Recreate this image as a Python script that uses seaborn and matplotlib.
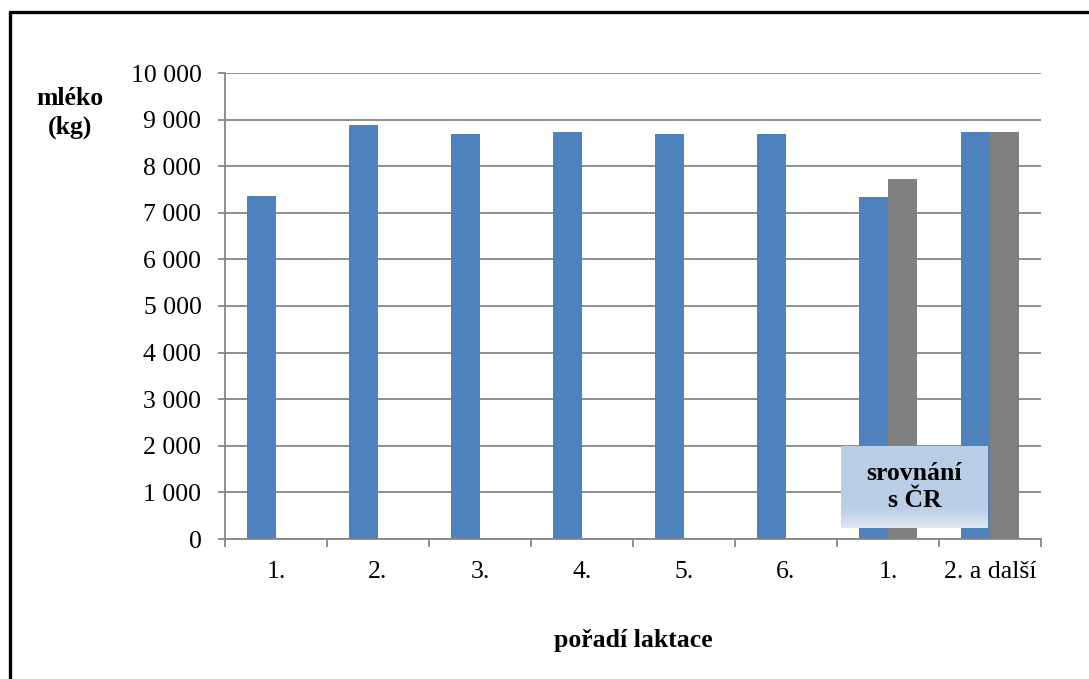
import numpy as np
import pandas as pd
import matplotlib
matplotlib.use("Agg")
import matplotlib.pyplot as plt
from matplotlib.lines import Line2D
from matplotlib.ticker import FuncFormatter, MultipleLocator
import seaborn as sns

# Milk yield (kg) by lactation order; last two groups compared with the Czech average
lactation_keys = ["1.", "2.", "3.", "4.", "5.", "6.", "1. (ČR)", "2. a další (ČR)"]
tick_labels = ["1.", "2.", "3.", "4.", "5.", "6.", "1.", "2. a další"]
herd_milk = [7350, 8890, 8690, 8740, 8700, 8700, 7345, 8740]
cr_keys = ["1. (ČR)", "2. a další (ČR)"]
cr_milk = [7720, 8730]
groups = ["stádo", "ČR"]

df = pd.concat([
    pd.DataFrame({"laktace": lactation_keys, "skupina": groups[0], "mleko": herd_milk}),
    pd.DataFrame({"laktace": cr_keys, "skupina": groups[1], "mleko": cr_milk}),
], ignore_index=True)

sns.set_style("white")
plt.rcParams["font.family"] = ["Liberation Serif", "DejaVu Serif"]
plt.rcParams["text.color"] = "black"
plt.rcParams["axes.labelcolor"] = "black"

W, H = 1089, 679
fig = plt.figure(figsize=(W / 100, H / 100), dpi=100)
ax = fig.add_axes([225 / W, 1 - 539 / H, (1041 - 225) / W, (539 - 73) / H])

sns.barplot(data=df, x="laktace", y="mleko", hue="skupina",
            order=lactation_keys, hue_order=groups,
            palette=["#4F81BD", "#808080"], saturation=1, width=0.57, gap=0,
            dodge=True, linewidth=0, errorbar=None, legend=False, ax=ax)

grid_col = "#868686"
ax.set_ylim(0, 10000)
ax.set_xlim(-0.5, len(lactation_keys) - 0.5)
ax.yaxis.set_major_locator(MultipleLocator(1000))
ax.yaxis.set_major_formatter(FuncFormatter(lambda v, p: f"{int(v):,}".replace(",", " ")))
ax.grid(axis="y", color=grid_col, linewidth=1.3)
ax.set_axisbelow(True)
for s in ["top", "right"]:
    ax.spines[s].set_visible(False)
for s in ["left", "bottom"]:
    ax.spines[s].set_color(grid_col)
    ax.spines[s].set_linewidth(1.3)

fs = 18.5
ax.set_xticks(np.arange(len(lactation_keys)))
ax.set_xticklabels(tick_labels, fontsize=fs)
ax.tick_params(axis="x", length=0, pad=16, labelcolor="black")
ax.tick_params(axis="y", which="major", left=True, length=5, width=1.3,
               color=grid_col, labelsize=fs, pad=12, labelcolor="black")
# category boundary ticks below the x axis
ax.set_xticks(np.arange(-0.5, len(lactation_keys)), minor=True)
ax.tick_params(axis="x", which="minor", bottom=True, length=6, width=1.3,
               color=grid_col, direction="out")
ax.set_xlabel("")
ax.set_ylabel("")

fig.text(70 / W, 1 - 113 / H, "mléko\n(kg)", ha="center", va="center",
         fontsize=fs, fontweight="bold", linespacing=1.3)
fig.text(633 / W, 1 - 641 / H, "pořadí laktace", ha="center", va="center",
         fontsize=fs, fontweight="bold")

# comparison label box with a soft blue gradient
bx = fig.add_axes([841 / W, 1 - 528 / H, (988 - 841) / W, (528 - 446) / H])
t = np.linspace(0, 1, 100)[:, None]
top = np.array([185, 205, 230]) / 255
bot = np.array([222, 232, 244]) / 255
mix = np.clip((t - 0.75) / 0.25, 0, 1)
grad = (top[None, None, :] * (1 - mix[..., None]) + bot[None, None, :] * mix[..., None])
bx.imshow(np.repeat(grad, 2, axis=1), aspect="auto", extent=[0, 1, 0, 1], origin="upper")
bx.set_axis_off()
bx.text(0.5, 0.5, "srovnání\ns ČR", ha="center", va="center", fontsize=fs,
        fontweight="bold", linespacing=1.2, transform=bx.transAxes)

# outer frame (top and left edges)
fig.add_artist(Line2D([10 / W, 1], [1 - 12 / H, 1 - 12 / H], color="black",
                      linewidth=2.4, transform=fig.transFigure))
fig.add_artist(Line2D([10 / W, 10 / W], [0, 1 - 12 / H], color="black",
                      linewidth=2.4, transform=fig.transFigure))

fig.savefig("out.png", dpi=100, facecolor="white")
